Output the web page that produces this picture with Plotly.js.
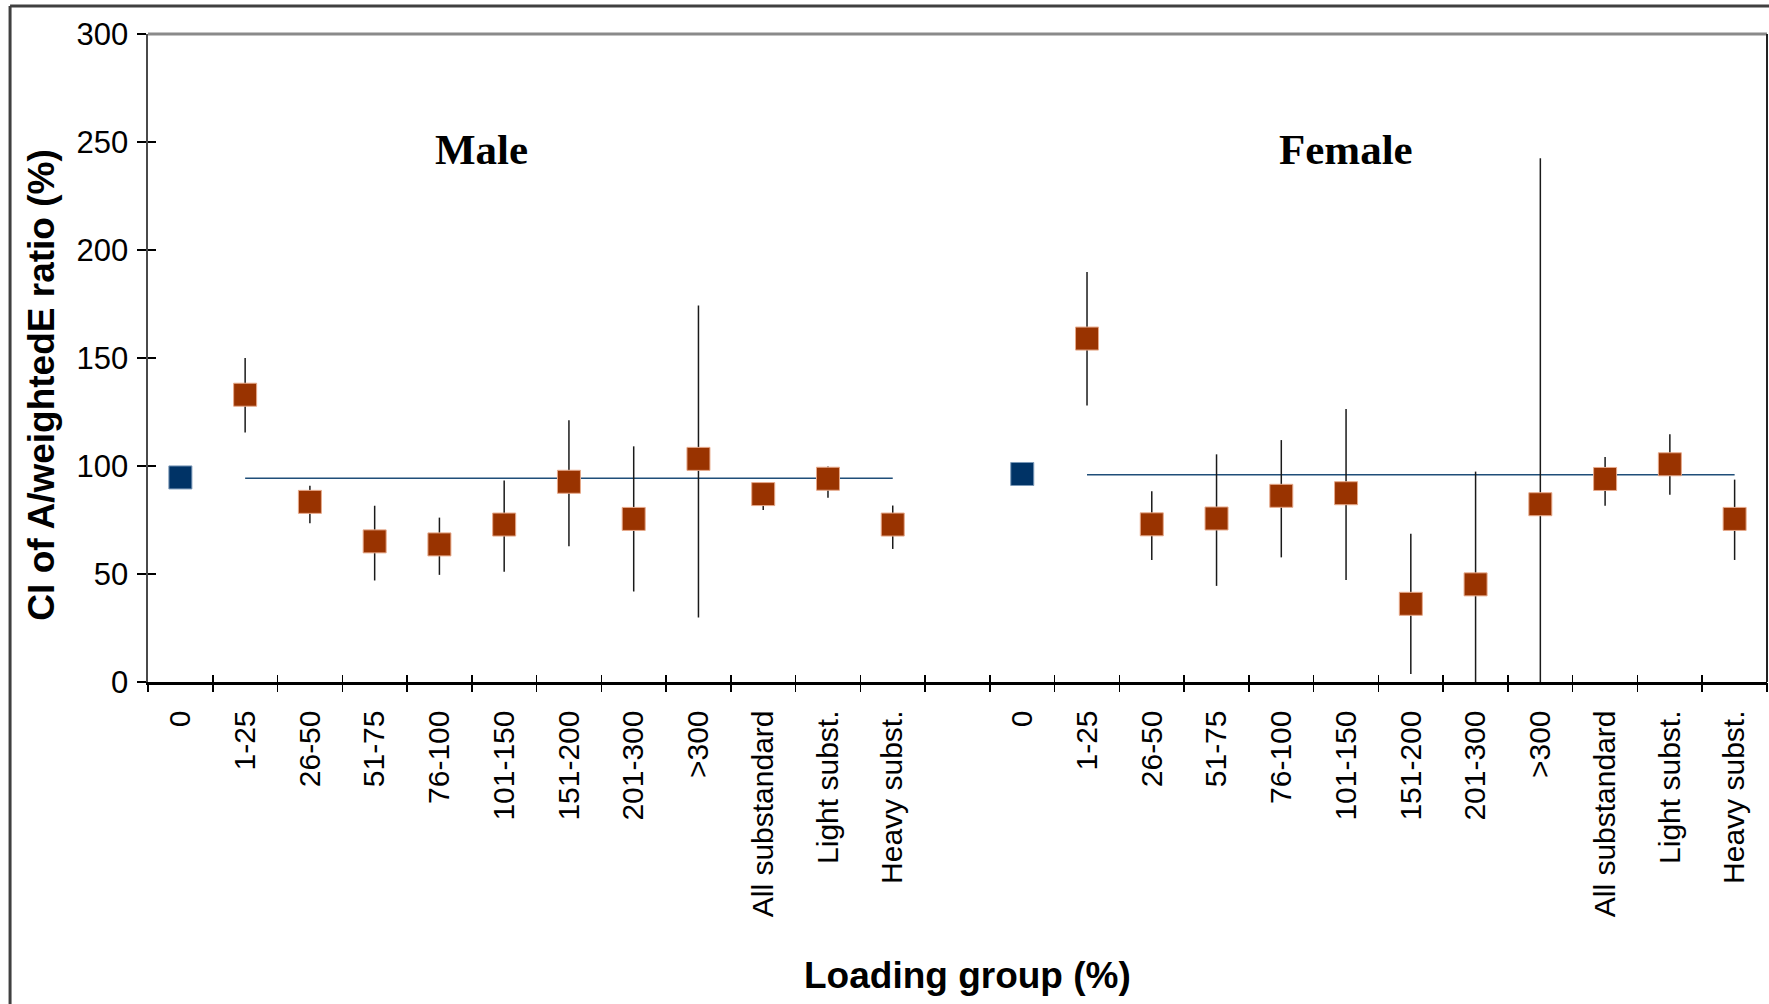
<!DOCTYPE html>
<html>
<head>
<meta charset="utf-8">
<script src="https://cdn.plot.ly/plotly-3.0.1.min.js"></script>
<style>
  html, body { margin: 0; padding: 0; background: #ffffff; }
  #chart { width: 1769px; height: 1004px; }
</style>
</head>
<body>
<div id="chart"></div>
<script>
// ---- data ----
const categories = ["0", "1-25", "26-50", "51-75", "76-100", "101-150", "151-200", "201-300", ">300", "All substandard", "Light subst.", "Heavy subst."];

const maleValues = [94.7, 133.0, 83.4, 65.1, 63.7, 72.9, 92.7, 75.5, 103.3, 87.0, 94.1, 72.9];
const maleUpper  = [null, 150.0, 90.9, 81.6, 76.1, 93.3, 121.2, 109.1, 174.3, 91.5, 99.8, 81.7];
const maleLower  = [null, 115.5, 73.5, 47.0, 49.6, 51.0, 62.8, 41.9, 29.9, 79.6, 85.3, 61.6];
const maleReference = 94.3;

const femaleValues = [96.3, 159.0, 73.0, 75.7, 86.2, 87.4, 36.2, 45.2, 82.3, 94.0, 100.8, 75.5];
const femaleUpper  = [null, 189.8, 88.3, 105.4, 112.0, 126.4, 68.6, 97.4, 242.5, 104.2, 114.7, 93.7];
const femaleLower  = [null, 128.0, 56.5, 44.5, 57.7, 47.2, 3.7, 0.0, 0.0, 81.6, 86.7, 56.5];
const femaleReference = 96.0;

const groupLabels = ["Male", "Female"];
const yTicks = [0, 50, 100, 150, 200, 250, 300];

// ---- positions on a numeric axis: male slots, one empty slot, female slots ----
const n = categories.length;
const femaleOffset = n + 1;
const maleX = categories.map((c, i) => i);
const femaleX = categories.map((c, i) => i + femaleOffset);
const totalSlots = n * 2 + 1;
const xRange = [-0.5, totalSlots - 0.5];
const boundaries = [];
for (let i = 0; i <= totalSlots; i++) boundaries.push(i - 0.5);

const brown = "#993300";
const brownEdge = "#e7a98a";
const blue = "#003366";
const blueEdge = "#7a98b8";
const font = "Liberation Sans, Arial, sans-serif";

function substandard(xs, vals, up, lo) {
  const idx = vals.map((v, i) => i).filter(i => i > 0);
  return {
    type: "scatter", mode: "markers",
    x: idx.map(i => xs[i]),
    y: idx.map(i => vals[i]),
    marker: { symbol: "square", size: 23, color: brown, line: { color: brownEdge, width: 1 } },
    error_y: {
      type: "data", symmetric: false,
      array: idx.map(i => up[i] - vals[i]),
      arrayminus: idx.map(i => vals[i] - lo[i]),
      width: 0, thickness: 1.5, color: "#1a1a1a"
    },
    cliponaxis: false,
    hoverinfo: "skip", showlegend: false
  };
}
function standard(xs, vals) {
  return {
    type: "scatter", mode: "markers",
    x: [xs[0]], y: [vals[0]],
    marker: { symbol: "square", size: 23, color: blue, line: { color: blueEdge, width: 1 } },
    hoverinfo: "skip", showlegend: false
  };
}
function refLine(xs, value) {
  return {
    type: "scatter", mode: "lines",
    x: [xs[1], xs[n - 1]], y: [value, value],
    line: { color: "#1f4e79", width: 1.5 },
    hoverinfo: "skip", showlegend: false
  };
}

const traces = [
  refLine(maleX, maleReference),
  refLine(femaleX, femaleReference),
  substandard(maleX, maleValues, maleUpper, maleLower),
  standard(maleX, maleValues),
  substandard(femaleX, femaleValues, femaleUpper, femaleLower),
  standard(femaleX, femaleValues),
  { type: "scatter", x: [null], y: [null], xaxis: "x2", yaxis: "y", hoverinfo: "skip", showlegend: false },
  { type: "scatter", x: [null], y: [null], xaxis: "x3", yaxis: "y", hoverinfo: "skip", showlegend: false },
  { type: "scatter", x: [null], y: [null], xaxis: "x", yaxis: "y2", hoverinfo: "skip", showlegend: false }
];

const tickLabelVals = maleX.concat(femaleX);
const tickLabelText = categories.concat(categories);

const layout = {
  width: 1769, height: 1004,
  margin: { l: 148, r: 2, t: 34, b: 322 },
  paper_bgcolor: "#ffffff", plot_bgcolor: "#ffffff",
  showlegend: false,
  font: { family: font, color: "#000000" },
  xaxis: {
    range: xRange, tickmode: "array", tickvals: tickLabelVals, ticktext: tickLabelText,
    ticks: "", tickangle: -90, tickfont: { size: 30, family: font, color: "#000" },
    ticklabelstandoff: 14,
    showline: true, linecolor: "#000000", linewidth: 2.5,
    showgrid: false, zeroline: false, fixedrange: true
  },
  xaxis2: {
    overlaying: "x", anchor: "y", side: "bottom", range: xRange,
    tickmode: "array", tickvals: boundaries, showticklabels: false,
    ticks: "outside", ticklen: 9, tickwidth: 1.5, tickcolor: "#000",
    showline: false, showgrid: false, zeroline: false
  },
  xaxis3: {
    overlaying: "x", anchor: "y", side: "bottom", range: xRange,
    tickmode: "array", tickvals: boundaries, showticklabels: false,
    ticks: "inside", ticklen: 7, tickwidth: 1.5, tickcolor: "#000",
    showline: false, showgrid: false, zeroline: false
  },
  yaxis: {
    range: [0, 300], tickmode: "array", tickvals: yTicks,
    ticks: "outside", ticklen: 9, tickwidth: 1.5, tickcolor: "#000",
    tickfont: { size: 31, family: font, color: "#000" }, ticklabelstandoff: 2,
    showline: true, linecolor: "#4a4a4a", linewidth: 2.5,
    showgrid: false, zeroline: false, fixedrange: true
  },
  yaxis2: {
    overlaying: "y", anchor: "x", side: "left", range: [0, 300],
    tickmode: "array", tickvals: yTicks, showticklabels: false,
    ticks: "inside", ticklen: 8, tickwidth: 1.5, tickcolor: "#000",
    showline: false, showgrid: false, zeroline: false
  },
  shapes: [
    // plot-area border (top grey, right dark)
    { type: "line", xref: "paper", yref: "paper", x0: 0, x1: 1, y0: 1, y1: 1, line: { color: "#8a8a8a", width: 3 } },
    { type: "line", xref: "paper", yref: "paper", x0: 1, x1: 1, y0: 0, y1: 1, line: { color: "#222222", width: 2 } },
    // outer frame (left and top)
    { type: "line", xref: "paper", yref: "paper", x0: -0.0852, x1: -0.0852, y0: -0.55, y1: 1.0432, line: { color: "#404040", width: 3 } },
    { type: "line", xref: "paper", yref: "paper", x0: -0.0852, x1: 1.01, y0: 1.0432, y1: 1.0432, line: { color: "#404040", width: 3 } }
  ],
  annotations: [
    { text: groupLabels[0], xref: "x", yref: "y", x: 4.65, y: 246.7, showarrow: false,
      xanchor: "center", yanchor: "middle",
      font: { family: "Liberation Serif, Times New Roman, serif", size: 43, color: "#000", weight: "bold" } },
    { text: groupLabels[1], xref: "x", yref: "y", x: 18.0, y: 246.7, showarrow: false,
      xanchor: "center", yanchor: "middle",
      font: { family: "Liberation Serif, Times New Roman, serif", size: 43, color: "#000", weight: "bold" } },
    { text: "<b>CI of A/weightedE ratio (%)</b>", xref: "paper", yref: "paper", x: -0.0655, y: 0.4588,
      textangle: -90, showarrow: false, xanchor: "center", yanchor: "middle",
      font: { family: font, size: 37, color: "#000" } },
    { text: "<b>Loading group (%)</b>", xref: "paper", yref: "paper", x: 0.5059, y: -0.4537,
      showarrow: false, xanchor: "center", yanchor: "middle",
      font: { family: font, size: 37, color: "#000" } }
  ]
};

Plotly.newPlot("chart", traces, layout, { displayModeBar: false, staticPlot: true });
</script>
</body>
</html>
